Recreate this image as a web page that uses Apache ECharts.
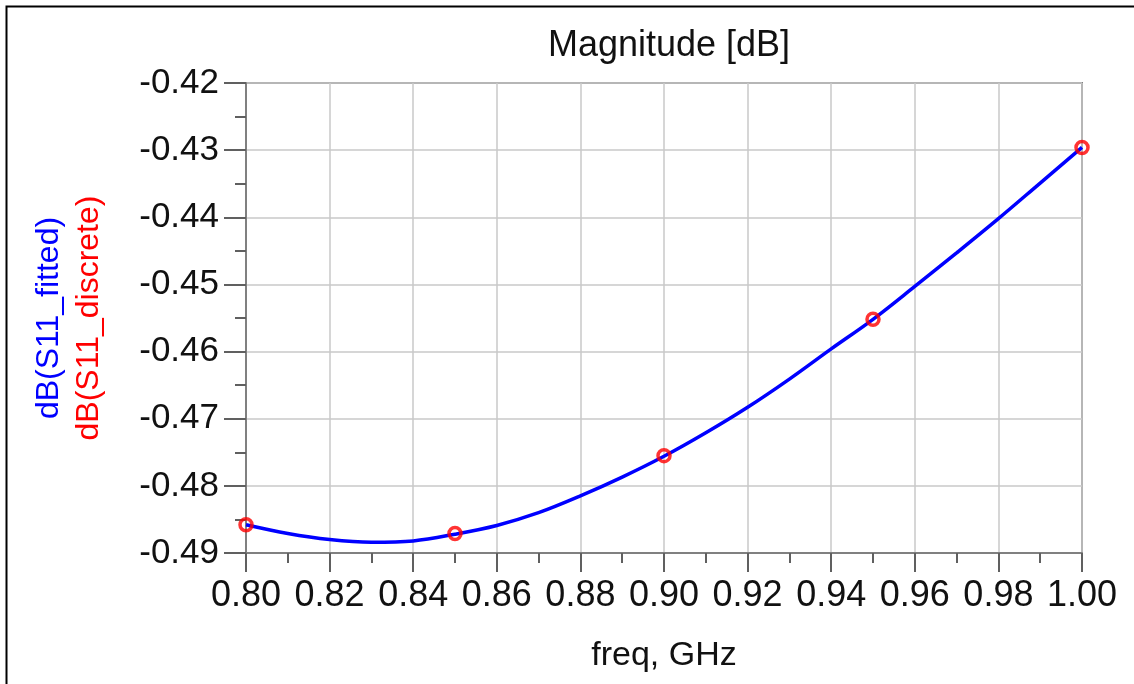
<!DOCTYPE html>
<html>
<head>
<meta charset="utf-8">
<script src="https://cdn.jsdelivr.net/npm/echarts@6/dist/echarts.min.js"></script>
<style>
html,body{margin:0;padding:0;background:#fff;}
#chart{width:1134px;height:684px;}
</style>
</head>
<body>
<div id="chart"></div>
<script>
// Fitted curve
const fittedFreq = [0.80, 0.81, 0.82, 0.83, 0.84, 0.85, 0.86, 0.87, 0.88, 0.89, 0.90, 0.91, 0.92, 0.93, 0.94, 0.95, 0.96, 0.97, 0.98, 0.99, 1.00];
const fittedMag  = [-0.4858, -0.4871, -0.4880, -0.4884, -0.4882, -0.4872, -0.4859, -0.4840, -0.4815, -0.4787, -0.4756, -0.4721, -0.4683, -0.4641, -0.4596, -0.4552, -0.4503, -0.4453, -0.4402, -0.4349, -0.4296];
// Discrete samples
const discreteFreq = [0.80, 0.85, 0.90, 0.95, 1.00];
const discreteMag  = [-0.4858, -0.4871, -0.4755, -0.4552, -0.4296];
// Axis settings
const xTicks = {min: 0.80, max: 1.00, step: 0.02};
const yTicks = {min: -0.49, max: -0.42, step: 0.01};
const titleText = 'Magnitude [dB]';
const xName = 'freq, GHz';
const yNameFitted = 'dB(S11_fitted)';
const yNameDiscrete = 'dB(S11_discrete)';

const FONT = '"Liberation Sans", Arial, Helvetica, sans-serif';
const chart = echarts.init(document.getElementById('chart'), null, {renderer: 'canvas'});

const option = {
  backgroundColor: '#ffffff',
  animation: false,
  title: {
    text: titleText,
    left: 664, top: 23, textAlign: 'center',
    textStyle: {fontFamily: FONT, fontSize: 36, fontWeight: 'normal', color: '#111'}
  },
  graphic: [{
    type: 'rect', silent: true, z: 100,
    shape: {x: 6.5, y: 6.5, width: 3000, height: 3000},
    style: {fill: 'none', stroke: '#000', lineWidth: 2}
  }],
  grid: {
    left: 246, right: 52, top: 83, bottom: 131,
    show: true, borderColor: '#808080', borderWidth: 2, backgroundColor: 'transparent'
  },
  xAxis: {
    type: 'value',
    min: xTicks.min, max: xTicks.max, interval: xTicks.step,
    name: xName, nameLocation: 'middle', nameGap: 86,
    nameTextStyle: {fontFamily: FONT, fontSize: 34, color: '#111'},
    axisLine: {show: true, onZero: false, lineStyle: {color: '#808080', width: 2}},
    axisTick: {show: true, inside: false, length: 19, lineStyle: {color: '#606060', width: 2}},
    minorTick: {show: true, splitNumber: 2, length: 10, lineStyle: {color: '#606060', width: 2}},
    splitLine: {show: true, lineStyle: {color: '#c8c8c8', width: 1.5}},
    axisLabel: {
      margin: 25, fontFamily: FONT, fontSize: 36, color: '#111',
      formatter: v => v.toFixed(2)
    }
  },
  yAxis: {
    type: 'value',
    min: yTicks.min, max: yTicks.max, interval: yTicks.step,
    name: '{f|' + yNameFitted + '}\n{d|' + yNameDiscrete + '}',
    nameLocation: 'middle', nameRotate: 90, nameGap: 137,
    nameTextStyle: {
      fontFamily: FONT, fontSize: 32,
      rich: {
        f: {color: '#0000ff', fontFamily: FONT, fontSize: 32, lineHeight: 40},
        d: {color: '#ff0000', fontFamily: FONT, fontSize: 32, lineHeight: 40}
      }
    },
    axisLine: {show: true, onZero: false, lineStyle: {color: '#808080', width: 2}},
    axisTick: {show: true, inside: false, length: 22, lineStyle: {color: '#606060', width: 2}},
    minorTick: {show: true, splitNumber: 2, length: 11, lineStyle: {color: '#606060', width: 2}},
    splitLine: {show: true, lineStyle: {color: '#c8c8c8', width: 1.5}},
    axisLabel: {
      margin: 27, fontFamily: FONT, fontSize: 35, color: '#111',
      formatter: v => v.toFixed(2)
    }
  },
  series: [
    {
      name: yNameFitted, type: 'line', smooth: 0.35, showSymbol: false,
      data: fittedFreq.map((f, i) => [f, fittedMag[i]]),
      lineStyle: {color: '#0000ff', width: 3.5}, z: 3
    },
    {
      name: yNameDiscrete, type: 'scatter', symbol: 'circle', symbolSize: 12,
      data: discreteFreq.map((f, i) => [f, discreteMag[i]]),
      itemStyle: {color: 'rgba(0,0,0,0)', borderColor: '#ff0000', borderWidth: 3.5}, z: 4
    }
  ]
};
chart.setOption(option);
</script>
</body>
</html>
